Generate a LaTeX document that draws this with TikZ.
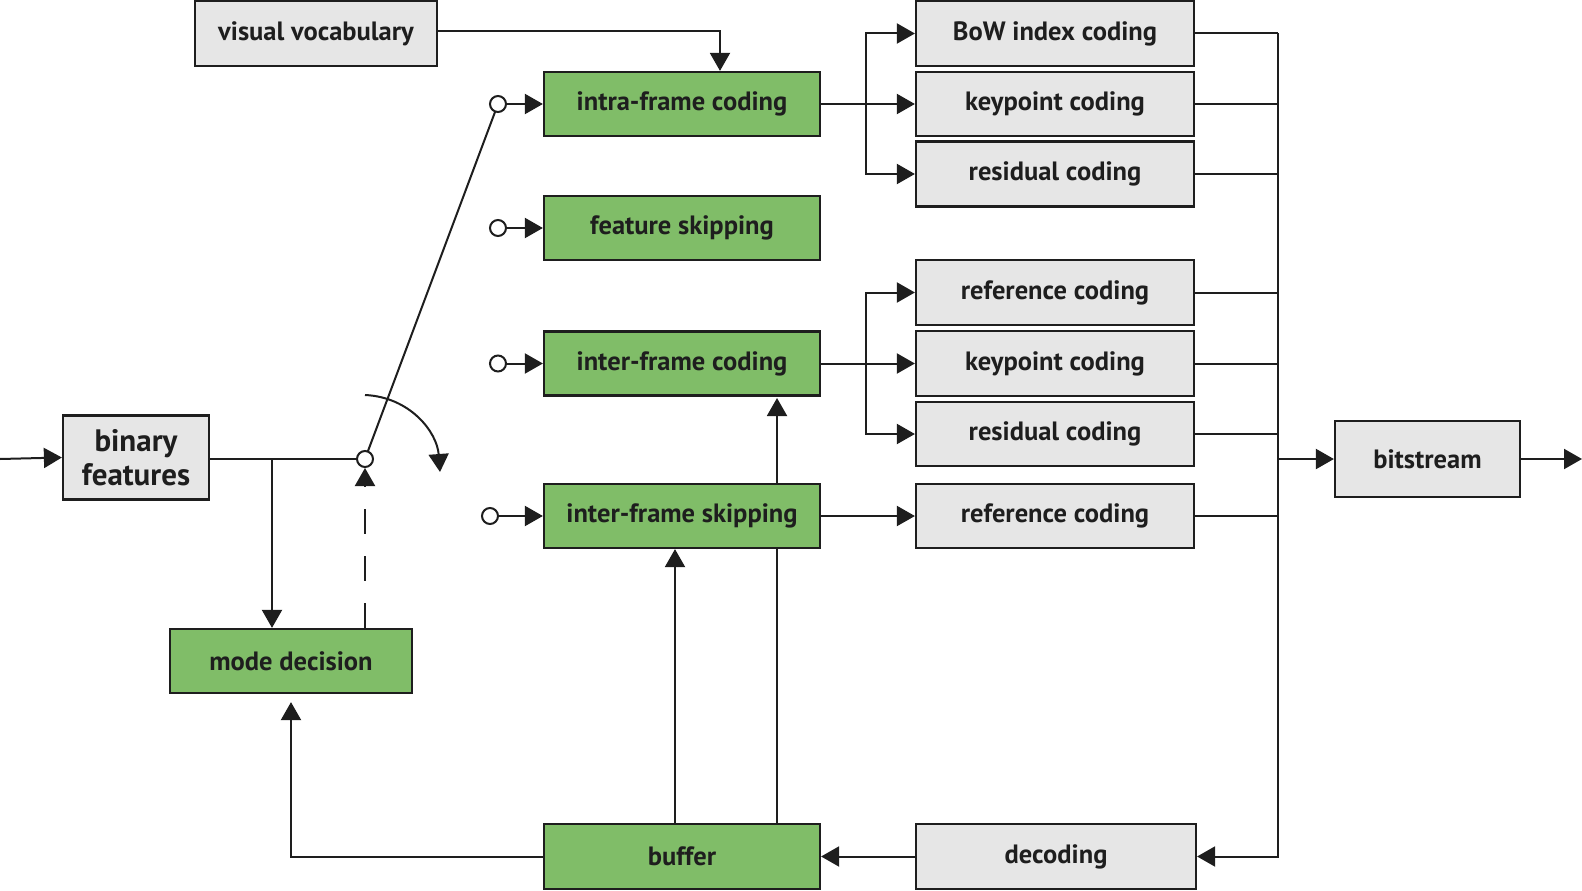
\documentclass[tikz,border=0pt]{standalone}
\usepackage{fontspec}
\setmainfont{PT Sans}
\usetikzlibrary{arrows.meta}
\definecolor{gfill}{HTML}{80BD68}
\definecolor{lgray}{HTML}{E6E6E6}
\definecolor{ink}{HTML}{1E1E1E}
\begin{document}
\begin{tikzpicture}[x=1pt,y=-1pt,
  box/.style={draw=ink, line width=2.2pt, text=ink, inner sep=0pt, align=center,
    font=\bfseries\fontsize{26.5}{30}\selectfont, minimum width=276pt, minimum height=64pt},
  gbox/.style={box, fill=gfill},
  wbox/.style={box, fill=lgray},
  circ/.style={circle, draw=ink, line width=2pt, fill=white, minimum size=16pt, inner sep=0pt},
  ln/.style={draw=ink, line width=2pt},
  arr/.style={ln, -{Triangle[length=18pt,width=20pt]}}
]
\useasboundingbox (0,0) rectangle (1582,891);

% coordinates for free ends
\coordinate (in) at (0,459);
\coordinate (out) at (1582,459);
\coordinate (bus) at (1278,0);
\coordinate (j1) at (272,459);
\coordinate (cs) at (365,395);
\coordinate (ce) at (440,472);

% switch lever (drawn under the circles)
\coordinate (pv) at (365,459);
\coordinate (c1p) at (498,104);
\draw[ln] (pv) -- (c1p);

% buffer to inter-frame coding line (under skipping box)
\coordinate (bl) at (777,824);
\draw[arr] (bl) -- (777,398);

% nodes
\node[wbox, minimum width=242pt, minimum height=65pt] (vv) at (316,33.5) {visual vocabulary};
\node[gbox] (intra) at (682,104) {intra-frame coding};
\node[gbox] (fskip) at (682,228) {feature skipping};
\node[gbox] (inter) at (682,363.5) {inter-frame coding};
\node[gbox] (iskip) at (682,516) {inter-frame skipping};
\node[gbox, minimum height=65pt] (buf) at (682,856.5) {buffer};
\node[gbox, minimum width=242pt] (mode) at (291,661) {mode decision};
\node[wbox, minimum width=146pt, minimum height=84pt, font=\bfseries\fontsize{31}{34}\selectfont] (bin) at (136,457.5) {binary\\features};

\node[wbox, minimum width=278pt, minimum height=65pt] (bow) at (1055,33.5) {BoW index coding};
\node[wbox, minimum width=278pt] (kp1) at (1055,104) {keypoint coding};
\node[wbox, minimum width=278pt, minimum height=65pt] (res1) at (1055,174) {residual coding};
\node[wbox, minimum width=278pt, minimum height=65pt] (ref1) at (1055,292.5) {reference coding};
\node[wbox, minimum width=278pt, minimum height=65pt] (kp2) at (1055,363.5) {keypoint coding};
\node[wbox, minimum width=278pt] (res2) at (1055,434) {residual coding};
\node[wbox, minimum width=278pt] (ref2) at (1055,516) {reference coding};
\node[wbox, minimum width=280pt, minimum height=65pt] (dec) at (1056,856.5) {decoding};
\node[wbox, minimum width=185pt, minimum height=76pt] (bit) at (1427.5,459) {bitstream};

% circles
\node[circ] (piv) at (365,459) {};
\node[circ] (c1) at (498,104) {};
\node[circ] (c2) at (498,228) {};
\node[circ] (c3) at (498,363.5) {};
\node[circ] (c4) at (490,516) {};

% connectors
\draw[arr] (in) -- (bin.west);
\draw[ln] (bin.east |- pv) -- (piv.west);
\draw[arr] (j1) -- (j1 |- mode.north);
\draw[arr, dash pattern=on 25pt off 22pt] (mode.north -| piv) -- (piv.south);
\draw[arr] (cs) .. controls (410,397) and (437,432) .. (ce);

\draw[arr] (c1) -- (intra.west);
\draw[arr] (c2) -- (fskip.west);
\draw[arr] (c3) -- (inter.west);
\draw[arr] (c4) -- (iskip.west);

\draw[arr] (vv.east |- 0,31) -| ([xshift=38]intra.north);

\draw[arr] (intra.east) -- (kp1.west);
\draw[arr] ([xshift=45]intra.east) |- (bow.west);
\draw[arr] ([xshift=45]intra.east) |- (res1.west);
\draw[arr] (inter.east) -- (kp2.west);
\draw[arr] ([xshift=45]inter.east) |- (ref1.west);
\draw[arr] ([xshift=45]inter.east) |- (res2.west);
\draw[arr] (iskip.east) -- (ref2.west);

\draw[arr] ([xshift=-7]buf.north) -- ([xshift=-7]iskip.south);
\draw[arr, shorten >=8pt] (buf.west) -| (mode.south);
\draw[arr] (dec.west) -- (buf.east);

% bus
\foreach \n in {bow,kp1,res1,ref1,kp2,res2,ref2} \draw[ln] (\n.east) -- (\n.east -| bus);
\draw[arr] (bow.east -| bus) |- (dec.east);
\draw[arr] (bit.west -| bus) -- (bit.west);
\draw[arr] (bit.east) -- (out);
\end{tikzpicture}
\end{document}
